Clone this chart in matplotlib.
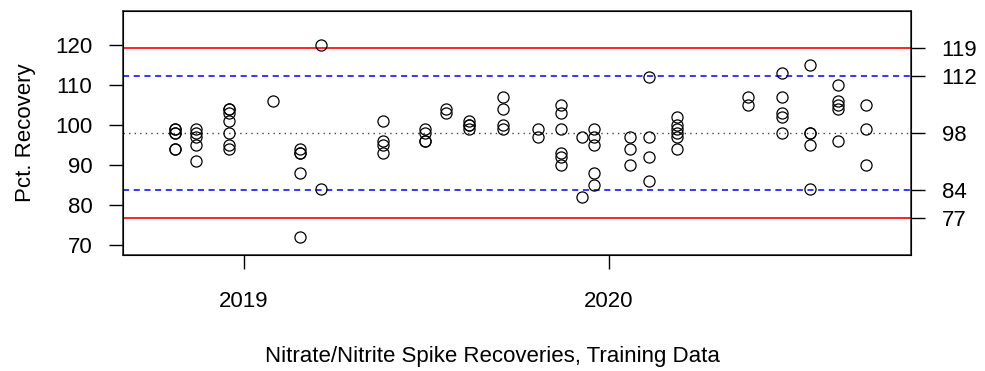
import matplotlib
matplotlib.use("Agg")
import matplotlib.pyplot as plt
import matplotlib.dates as mdates
import numpy as np
import pandas as pd

plt.rcParams['font.family'] = ['Liberation Sans', 'DejaVu Sans']

# spike recovery results, grouped by sample date
dates = (["2018-10-24"] * 6 + ["2018-11-14"] * 5 + ["2018-12-17"] * 7 +
         ["2019-01-30"] + ["2019-02-26"] * 5 + ["2019-03-19"] * 2 +
         ["2019-05-20"] * 4 + ["2019-07-01"] * 4 + ["2019-07-22"] * 2 +
         ["2019-08-14"] * 4 + ["2019-09-17"] * 4 + ["2019-10-22"] * 2 +
         ["2019-11-14"] * 6 + ["2019-12-05"] * 2 + ["2019-12-17"] * 5 +
         ["2020-01-22"] * 3 + ["2020-02-10"] * 4 + ["2020-03-09"] * 6 +
         ["2020-05-19"] * 2 + ["2020-06-22"] * 5 + ["2020-07-20"] * 5 +
         ["2020-08-17"] * 5 + ["2020-09-14"] * 3)
recovery = [99, 99, 98, 98, 94, 94,
            99, 98, 97, 95, 91,
            104, 104, 103, 101, 98, 95, 94,
            106,
            94, 93, 93, 88, 72,
            120, 84,
            101, 96, 95, 93,
            99, 98, 96, 96,
            104, 103,
            101, 100, 100, 99,
            107, 104, 100, 99,
            99, 97,
            105, 103, 99, 93, 92, 90,
            97, 82,
            99, 97, 95, 88, 85,
            97, 94, 90,
            112, 97, 92, 86,
            102, 100, 99, 98, 97, 94,
            107, 105,
            113, 107, 103, 102, 98,
            115, 98, 98, 95, 84,
            110, 106, 105, 104, 96,
            105, 99, 90]

# control limits
center = 98.0
warn_lo, warn_hi = 83.8, 112.2
ctrl_lo, ctrl_hi = 76.7, 119.3

x = pd.to_datetime(dates)

fig = plt.figure(figsize=(9.85, 3.71), dpi=100)
ax = fig.add_axes([0.1249, 0.3127, 0.8, 0.6577])

ax.axhline(ctrl_hi, color='red', lw=1.2)
ax.axhline(ctrl_lo, color='red', lw=1.2)
ax.axhline(warn_hi, color='blue', lw=1.1, ls=(0, (4, 3)))
ax.axhline(warn_lo, color='blue', lw=1.1, ls=(0, (4, 3)))
ax.axhline(center, color='#444444', lw=1.0, ls=(0, (1, 3)))

ax.plot(x, recovery, 'o', mfc='none', mec='black', ms=8, mew=0.9, ls='none')

ax.set_ylim(67.5, 128.5)
ax.set_xlim(pd.Timestamp("2018-09-02"), pd.Timestamp("2020-10-29"))
ax.set_yticks([70, 80, 90, 100, 110, 120])
ax.xaxis.set_major_locator(mdates.YearLocator())
ax.xaxis.set_major_formatter(mdates.DateFormatter('%Y'))

fs = 16
ax.tick_params(axis='y', length=10, width=1, labelsize=fs, pad=12)
ax.tick_params(axis='x', length=10, width=1, labelsize=fs, pad=16)
for s in ax.spines.values():
    s.set_linewidth(1.1)
    s.set_color('#222222')

ax.set_ylabel('Pct. Recovery', fontsize=fs, labelpad=14)
fig.text(0.5, 0.038, 'Nitrate/Nitrite Spike Recoveries, Training Data',
         fontsize=fs, ha='center', va='center')

# right axis with limit values
ax2 = ax.twinx()
ax2.set_ylim(ax.get_ylim())
lims = [ctrl_hi, warn_hi, center, warn_lo, ctrl_lo]
ax2.set_yticks(lims)
ax2.set_yticklabels([f"{v:.0f}" for v in lims])
ax2.tick_params(axis='y', length=10, width=1, labelsize=fs, pad=12)

fig.savefig("out.png", dpi=100)
